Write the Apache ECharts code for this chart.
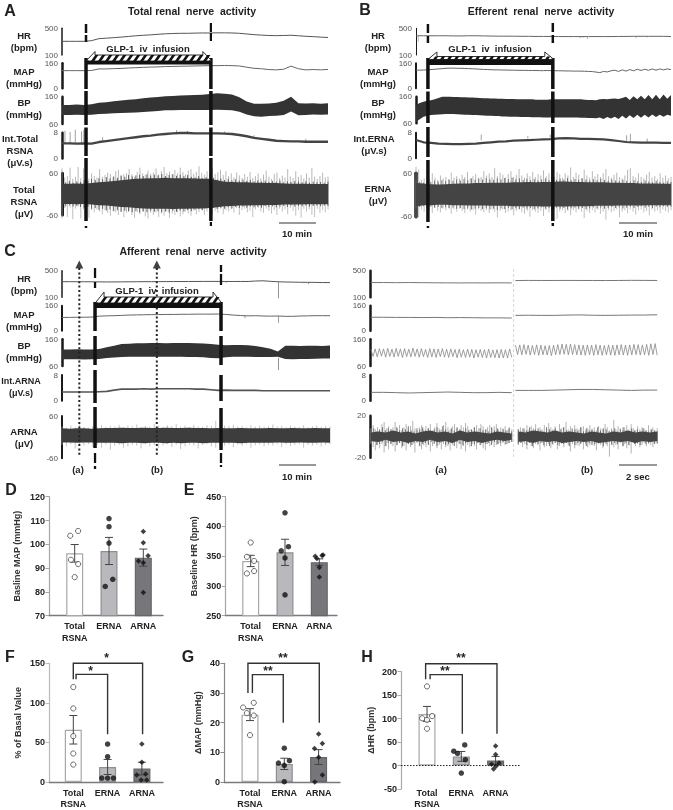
<!DOCTYPE html>
<html><head><meta charset="utf-8">
<script src="https://cdn.jsdelivr.net/npm/echarts@6/dist/echarts.min.js"></script>
<style>html,body{margin:0;padding:0;background:#fff}#c{width:673px;height:810px;filter:blur(.3px)}</style></head>
<body><div id="c"></div>
<script>
// ---------- DATA: recording traces ----------
const A_hr=[305,305,305,305,315,345,352,360,368,378,388,395,402,410,418,422,425,425,428,430,430,432,432,430,425,415,405,398,392,390,392,396,388,380,375,368,362];
const A_map=[113,113,113,113,114,124,124,126,127,130,132,134,136,137,139,140,141,142,143,144,145,145,146,145,143,135,128,125,120,118,122,142,125,118,120,118,121];
const A_bp_hi=[130,130,131,130,132,138,140,143,146,149,151,154,157,159,162,163,164,165,166,167,170,173,171,168,158,142,134,134,135,138,145,160,136,135,136,134,136];
const A_bp_lo=[93,93,94,93,94,97,98,99,100,101,102,104,106,108,110,110,111,111,111,111,111,112,111,110,105,95,88,87,89,90,93,106,92,93,95,94,95];
const A_int=[4.7,4.7,4.6,4.7,4.6,5.1,5.4,5.7,6.0,6.3,6.6,6.9,7.1,7.4,7.6,7.8,7.9,7.9,7.8,7.8,7.8,7.8,7.7,7.6,7.3,6.9,6.4,6.1,5.8,5.5,5.4,5.3,5.3,5.2,5.2,5.2,5.2];
const A_int_spikes=[[0.8,4.7,8.6],[2.2,4.7,8.2],[3.6,4.7,8.9],[5.3,4.7,8.4],[5.9,4.7,8.9],[11,5.4,6.6],[31,7.8,8.8],[34,7.9,8.6],[44,7.7,8.4],[52,6.4,7.2],[66,5.2,6.1]];
const A_nerve_hi=[30,30,31,30,32,34,36,38,40,42,44,45,46,46,47,46,46,46,45,44,44,40,36,35,34,34,33,33,32,32,31,30,30,30,29,29,29];
const A_nerve_lo=[-28,-28,-29,-28,-30,-32,-33,-35,-37,-38,-40,-41,-42,-42,-42,-43,-42,-42,-41,-41,-40,-38,-35,-34,-33,-33,-32,-32,-31,-31,-30,-30,-30,-29,-29,-29,-29];
const A_nerve_up=[74,48,52,76,44,50,78,46,74,42,45,60,52,48,72,50,55,62,58,49,66,70,54,57,61,72,58,50,64,76,60,56,68,59,62,74,57,66,78,60,65,58,70,61,76,63,57,68,72,59,64,80,61,56,66,60,74,58,63,70,55,66,52,60,48,62,54,46,58,50,64,47,52,60,45,56,68,50,44,58,62,46,53,48,72,51,46,66,50,55,45,60,48,76,50,44,52,62,48,50];
const A_nerve_down=[-70,-40,-66,-38,-72,-42,-36,-70,-44,-40,-68,-46,-52,-44,-50,-58,-46,-54,-62,-48,-52,-60,-50,-66,-54,-48,-60,-68,-52,-58,-50,-64,-70,-54,-60,-52,-66,-56,-62,-50,-68,-56,-60,-52,-64,-58,-50,-56,-62,-48,-58,-52,-46,-60,-50,-44,-56,-48,-54,-42,-58,-46,-50,-44,-54,-40,-60,-46,-42,-52,-48,-66,-44,-40,-50,-54,-42,-48,-56,-46,-60,-42,-50,-44,-58,-40,-48,-62,-46,-68,-42,-50,-44,-60,-66,-42,-54,-46,-52,-44];
const A_nerve_up2=[36,34,38,33,37,35,40,38,44,41,46,43,49,45,51,47,53,50,55,51,54,56,52,57,53,56,54,58,52,55,57,53,56,52,55,50,48,52,46,49,44,47,42,45,41,44,40,43,39,42,38,41,37,40,36,39,35,38,36,39,34,37,35,38,36,34,37,33,36,34,35,33,36];
const A_nerve_down2=[-33,-35,-32,-36,-34,-37,-39,-37,-42,-40,-45,-42,-47,-44,-49,-46,-51,-48,-50,-52,-49,-53,-50,-52,-48,-51,-49,-52,-50,-53,-48,-51,-47,-50,-46,-49,-45,-43,-46,-41,-44,-40,-43,-39,-42,-38,-41,-37,-40,-36,-39,-35,-38,-36,-39,-34,-37,-35,-38,-36,-34,-37,-33,-36,-34,-35,-33,-36,-34,-33,-35,-33,-34];

const B_hr=[388,388,388,388,388,386,386,388,388,386,384,382,382,382,380,380,378,378,378,376,376,376,376,376,376,376,376,378,378,380,380,380,380,380,376];
const B_hr_spikes=[[0.6,388,300],[44,376,350],[44.8,376,358],[46,376,340],[59,380,352],[62,380,362]];
const B_map=[117,116,117,118,120,122,124,126,128,129,129,128,128,127,126,125,124,122,121,120,119,118,118,117,117,116,116,115,115,115,114,114,114,113,113,114,113,113,112,112,111,111,110,110,110,109,108,107,104,100,108,105,112,116,108,118,110,120,112,122,114,122,115,124,116,124,118,124,120];
const B_bp_hi=[129,136,141,145,147,150,155,160,160,160,159,159,158,158,157,157,156,155,154,154,153,153,152,152,151,151,151,150,150,150,150,150,149,149,149,149,150,150,150,150,150,150,150,150,150,149,148,148,147,150,151,150,152,153,151,155,160,148,162,150,164,150,166,150,167,150,168,152,166];
const B_bp_lo=[66,75,85,88,91,92,93,94,95,95,95,94,93,92,92,91,91,90,89,88,88,87,87,86,86,85,85,85,84,84,84,83,83,83,82,82,82,82,82,82,82,82,82,82,81,81,80,80,79,82,76,84,78,85,76,88,78,90,80,92,81,92,82,93,84,92,85,92,88];
const B_int=[5.7,5.0,4.8,4.6,4.5,4.4,4.4,4.5,4.6,4.8,5.0,5.2,5.3,5.5,5.6,5.7,5.8,5.9,6.0,6.2,6.3,6.2,6.1,6.1,6.0,5.9,5.7,5.4,5.1,5.0,4.9,4.9,4.9,4.8,4.8];
const B_int_spikes=[[17.5,5.6,7.4],[30,6.2,7.0],[36,6.4,7.4],[56.5,4.9,7.2],[57.5,4.9,7.6],[62,4.8,6.2]];
const B_nerve_hi=[33,32,30,29,30,31,32,32,33,33,34,34,34,35,35,36,35,36,36,37,37,36,36,35,35,35,34,34,33,33,32,32,32,31,31];
const B_nerve_lo=[-32,-28,-28,-27,-27,-28,-28,-29,-29,-29,-30,-30,-30,-31,-31,-31,-31,-32,-32,-32,-32,-31,-31,-31,-30,-30,-30,-29,-29,-29,-29,-28,-28,-28,-28];
const B_nerve_up=[78,70,42,46,52,44,60,48,42,54,46,50,44,62,48,52,46,56,50,64,46,52,58,48,50,66,54,60,50,74,52,62,56,48,58,66,50,56,72,54,48,60,52,64,50,58,54,68,52,60,56,50,64,58,48,60,54,76,50,62,56,46,70,54,48,66,52,58,50,60,72,52,48,56,62,50,46,54,70,74,52,48,60,50,46,56,64,48,52,44,60,48,54,46,50];
const B_nerve_down=[-66,-62,-40,-46,-38,-42,-50,-36,-44,-48,-38,-42,-36,-52,-40,-46,-38,-44,-50,-40,-46,-42,-54,-40,-44,-48,-42,-50,-40,-46,-62,-44,-40,-50,-46,-42,-56,-44,-40,-48,-52,-44,-60,-42,-46,-50,-44,-58,-42,-48,-44,-40,-66,-46,-42,-50,-44,-56,-42,-48,-40,-46,-64,-44,-50,-42,-48,-40,-52,-46,-68,-42,-48,-44,-40,-62,-46,-42,-50,-40,-46,-54,-42,-40,-48,-44,-56,-40,-46,-42,-50,-40,-44,-48,-42];
const B_nerve_up2=[40,36,34,38,36,40,37,41,38,42,39,43,40,44,41,46,42,45,43,47,44,42,46,43,47,44,48,43,46,42,45,41,44,40,43,46,41,44,42,45,43,47,41,44,42,46,43,40,44,41,45,42,39,43,40,38,42,39,37,41,38,36,40,37,35,39,36,34,38,36];
const B_nerve_down2=[-36,-33,-31,-34,-32,-35,-33,-36,-34,-37,-35,-38,-36,-39,-37,-40,-38,-36,-39,-37,-40,-38,-41,-37,-39,-36,-40,-37,-39,-35,-38,-36,-39,-37,-34,-38,-36,-39,-35,-38,-36,-40,-37,-35,-38,-36,-39,-37,-34,-37,-35,-38,-36,-33,-36,-34,-37,-35,-32,-36,-33,-31,-35,-33,-36,-32,-34,-31,-33,-32];

const C_hr=[335,335,334,334,333,332,331,331,332,333,334,335,335,336,336,337,337,338,338,339,339,339,338,338,338,338,345,348,340,334,330,328,326,325,324,322,321];
const C_hr_spikes=[[58,330,85],[66,325,298],[44,338,318]];
const C_map=[85,85,86,86,87,93,95,96,98,100,101,102,103,103,104,104,105,105,106,106,106,107,104,100,97,95,96,94,93,94,92,92,94,95,96,96,96];
const C_map_spikes=[[58,94,50],[49,96,80]];
const C_bp_hi=[122,122,123,122,122,124,130,136,142,143,145,145,146,146,145,146,146,146,145,144,142,140,138,139,139,138,135,130,125,114,136,136,135,136,136,135,137];
const C_bp_lo=[85,85,85,84,85,86,90,92,94,95,95,95,95,95,95,95,95,94,94,93,90,89,93,95,95,95,94,94,94,95,86,85,86,86,87,88,88];
const C_bp_spikes=[[58,90,45],[25.5,145,152]];
const C_int=[2.7,2.7,2.7,2.7,2.7,2.8,2.9,3.3,3.6,3.6,3.6,3.7,3.6,3.7,3.7,3.7,3.7,3.7,3.6,3.6,3.4,3.2,3.3,3.2,3.2,3.2,3.2,3.1,3.1,3.1,3.1,3.1,3.1,3.1,3.1,3.1,3.1];
const C_nerve_hi=[25,24,25,25,24,25,26,26,27,26,26,27,26,26,27,26,26,27,26,26,25,26,25,25,26,25,25,25,26,25,25,26,25,25,26,25,25];
const C_nerve_lo=[-15,-15,-16,-15,-15,-16,-16,-16,-17,-16,-16,-17,-16,-16,-17,-16,-17,-16,-16,-17,-16,-16,-16,-16,-17,-16,-16,-16,-16,-15,-16,-16,-15,-16,-16,-15,-16];
const C_nerve_up=[30,27,33,28,36,29,27,31,28,34,29,32,30,35,28,33,31,36,29,32,30,38,33,29,34,31,37,30,33,29,35,31,30,34,32,46,29,33,31,35,30,32,28,34,30,33,29,31,36,30,32,28,33,30,29,34,28,31,33,29,32,30];
const C_nerve_down=[-22,-26,-20,-32,-22,-24,-20,-28,-22,-30,-21,-36,-24,-22,-30,-26,-22,-24,-32,-20,-26,-22,-30,-24,-20,-28,-22,-34,-26,-21,-24,-32,-22,-20,-26,-30,-22,-24,-20,-28,-22,-25,-20,-30,-23,-21,-26,-22,-24,-20,-28,-21,-25,-22,-20,-30,-22,-24,-21,-26,-22,-20];

const Ra_hr=[322,322,320,322,320,318,317,316,317,316,318,316];
const Rb_hr=[352,354,353,353,354,353,353,352,353,355,354,353];
const Ra_map=[86,86,85,85,84,85,83,84,83,82,82,81];
const Rb_map=[98,99,98,98,100,101,99,98,99,100,100,102];
const Ra_bp=[122,96,124,94,125,97,124,93,126,96,123,94,126,96,124,92,125,95,123,94,127,96,124,93,125,95,122,92,125,94,124,92,124,95,125,93,123,92,124,95,122,91,123,93,121,92,123,93,122,90,121,93,122,92,121,90,123,92,120,91,121,90,122,90,121,90,124,92];
const Rb_bp=[138,103,139,102,140,104,138,101,137,103,139,100,138,102,136,101,137,99,138,102,140,103,142,104,141,102,142,103,140,102,139,101,138,100,139,102,138,100,140,102,138,100,137,102,139,101,138,100,139,102,140,101,138,100,139,102,141,103,140,101,139,102,141,100,143,103,144,100];
const Ra_int=[2.6,2.6,2.5,2.4,2.5,2.6,2.7,2.6,2.5,2.5,2.6,2.5];
const Rb_int=[3.2,3.2,3.2,3.3,3.4,3.5,3.5,3.4,3.3,3.2,3.3,3.3];
const Ra_nerve_hi=[4,5,4,6,4,5,3,5,6,4,5,3,6,4,5,4,3,5,4,3];
const Ra_nerve_lo=[-4,-5,-3,-5,-4,-6,-4,-5,-3,-5,-4,-6,-3,-5,-4,-6,-4,-3,-4,-3];
const Rb_nerve_hi=[5,4,6,5,4,6,4,5,4,3,5,4,3,5,4,6,4,5,4,5];
const Rb_nerve_lo=[-5,-4,-6,-4,-5,-4,-6,-5,-4,-5,-4,-6,-5,-4,-5,-4,-6,-4,-5,-4];
const Ra_nerve_up=[8,11,7,9,6,12,14,8,10,7,9,14,8,11,6,9,12,7,10,15,8,6,9,11,7,10,8,12,6,9,13,8,7,11,14,9,7,10,12,8,6,11,9,13,10,7,6,9,11,8,12,10,7,9,11,8,10,12,7,9,8,10,6,9,7];
const Ra_nerve_down=[-7,-10,-13,-8,-11,-7,-15,-9,-12,-7,-9,-14,-8,-6,-11,-9,-13,-7,-10,-8,-15,-6,-9,-12,-8,-10,-7,-14,-9,-6,-11,-8,-12,-7,-10,-9,-13,-8,-6,-11,-7,-12,-9,-14,-8,-10,-7,-9,-12,-6,-8,-11,-13,-7,-9,-6,-10,-8,-7,-9,-6,-8,-7,-6,-5];
const Rb_nerve_up=[7,9,8,6,11,7,10,8,12,6,9,7,11,8,13,9,7,10,6,12,8,9,14,7,10,6,11,8,7,9,10,6,8,11,7,9,6,10,8,7,12,9,6,8,16,7,10,8,6,9,11,7,12,8,6,10,7,9,8,6,11,7,9,6,8];
const Rb_nerve_down=[-8,-6,-10,-7,-12,-6,-9,-11,-7,-8,-13,-6,-10,-9,-7,-11,-8,-6,-12,-9,-7,-10,-6,-8,-14,-7,-11,-8,-9,-6,-12,-7,-10,-8,-6,-9,-13,-7,-8,-11,-6,-9,-19,-7,-10,-8,-12,-6,-9,-7,-11,-8,-16,-6,-9,-7,-10,-8,-6,-9,-7,-8,-10,-6,-7];
const Ra_nerve_up2=[6,8,5,7,9,6,8,7,5,9,6,8,7,10,6,5,8,7,9,6,8,5,7,9,6,10,7,5,8,6,9,7,5,8,6,7,9,5,8,6,7,5,9,6,8,5,7,6,8,5];
const Ra_nerve_down2=[-6,-5,-8,-7,-5,-9,-6,-7,-5,-8,-6,-9,-5,-7,-8,-6,-5,-9,-7,-6,-8,-5,-7,-9,-6,-5,-8,-7,-6,-9,-5,-7,-8,-6,-5,-9,-7,-6,-8,-5,-7,-6,-8,-5,-7,-6,-5,-7,-6,-5];
const Rb_nerve_up2=[7,5,8,6,9,5,7,8,6,5,9,7,6,8,5,7,9,6,5,8,7,6,9,5,8,6,7,5,9,6,8,7,5,6,8,5,7,9,6,5,8,6,7,5,8,6,5,7,6,5];
const Rb_nerve_down2=[-7,-6,-5,-8,-6,-9,-5,-7,-6,-8,-5,-9,-7,-6,-8,-5,-7,-6,-9,-5,-8,-6,-7,-5,-9,-6,-8,-7,-5,-6,-9,-7,-5,-8,-6,-7,-5,-9,-6,-8,-5,-7,-6,-8,-5,-7,-6,-5,-7,-6];

// ---------- DATA: bar panels ----------
const barCategories=['Total\nRSNA','ERNA','ARNA'];
const D_means=[96.2,97.2,94.4], D_err=[3.7,5.7,3.6];
const D_total=[103.6,105.6,93.5,91.7,86.2], D_erna=[110.8,107.4,100.5,85.3,82.3], D_arna=[105.4,100.7,95.2,93,92.3,79.8];
const E_means=[342,356.5,340], E_err=[9.5,22,5.5];
const E_total=[373,349,342,321,325], E_erna=[423,359,366,347,285], E_arna=[350,351,346,331,315,352];
const F_means=[66,19,17], F_err=[18,9.5,8];
const F_total=[120,93,58,36,22], F_erna=[48,32,5,5,5], F_arna=[48,25,9,10,2.5,2.5];
const G_means=[22.7,6.1,8.4], G_err=[2,1.9,2.5];
const G_total=[25.1,26.7,23.2,22.4,15.8], G_erna=[11.4,6.4,7.2,5.6,0.1], G_arna=[16.2,13,11.3,8.3,2.4,0];
const H_means=[110,19.5,11], H_err=[16,10.5,8.5];
const H_total=[168.7,100.7,105.5,97.2,78.5], H_erna=[43.8,30.5,25.7,12.5,-16], H_arna=[41.7,23.6,5.6,2.8,-1.4,-7.6];

// ---------- LAYOUT ----------
const grid=[],xAxis=[],yAxis=[],series=[],graphic=[];
const FONT='"Liberation Sans",Arial,sans-serif';
function txt(x,y,text,size,opt){opt=opt||{};
  graphic.push({type:'text',x:x,y:y,silent:true,z:50,style:{text:text,fill:opt.fill||'#222',font:(opt.weight||'bold')+' '+size+'px '+FONT,textAlign:opt.align||'center',textVerticalAlign:'middle',lineHeight:opt.lh||12}});
}
function addGrid(l,t,w,h,xa,ya){
  grid.push({left:l,top:t,width:w,height:h,containLabel:false});
  xAxis.push(Object.assign({gridIndex:grid.length-1,type:'value',show:false,splitLine:{show:false}},xa));
  yAxis.push(Object.assign({gridIndex:grid.length-1,type:'value',splitLine:{show:false}},ya));
  return grid.length-1;
}
function line(g,vals,t0,t1,color,width){
  const n=vals.length;
  series.push({type:'line',xAxisIndex:g,yAxisIndex:g,showSymbol:false,silent:true,animation:false,clip:false,
    data:vals.map((v,i)=>[t0+i*(t1-t0)/(n-1),v]),lineStyle:{color:color,width:width}});
}
function band(g,hi,lo,t0,t1,color){
  const n=hi.length,d=hi.map((v,i)=>[t0+i*(t1-t0)/(n-1),v,lo[i]]);
  series.push({type:'custom',xAxisIndex:g,yAxisIndex:g,silent:true,animation:false,data:d,
    renderItem:function(p,api){
      if(p.dataIndex!==0) return null;
      const up=d.map(r=>api.coord([r[0],r[1]])),dn=d.map(r=>api.coord([r[0],r[2]])).reverse();
      return {type:'polygon',shape:{points:up.concat(dn)},style:{fill:color}};
    }});
}
function spikes(g,rows,color,width){
  series.push({type:'custom',xAxisIndex:g,yAxisIndex:g,silent:true,animation:false,data:rows,
    renderItem:function(p,api){
      const a=api.coord([api.value(0),api.value(1)]),b=api.coord([api.value(0),api.value(2)]);
      return {type:'line',shape:{x1:a[0],y1:a[1],x2:b[0],y2:b[1]},style:{stroke:color,lineWidth:width}};
    }});
}
function even(vals,t0,t1){const n=vals.length;return vals.map((v,i)=>[t0+i*(t1-t0)/(n-1),0,v]);}

const RANGES=[[100,500],[0,160],[60,160],[0,8],[-60,60]];
function rows(left,width,T,boxes,ranges,axisW){
  return boxes.map((b,i)=>addGrid(left,b[0],width,b[1]-b[0],{min:0,max:T},{
    min:ranges[i][0],max:ranges[i][1],
    axisLine:{show:true,onZero:false,lineStyle:{color:'#1a1a1a',width:axisW[i]}},
    axisTick:{show:false},
    axisLabel:{customValues:ranges[i],fontSize:8,color:'#555',margin:4,fontFamily:FONT}}));
}
function overlay(left,width,T){return addGrid(left,0,width,810,{min:0,max:T},{min:0,max:810,inverse:true,show:false});}
function vseg(g,t,segs,width,color,dash){
  const d=[];segs.forEach(s=>{d.push([t,s[0]],[t,s[1]],[t,null]);});
  series.push({type:'line',xAxisIndex:g,yAxisIndex:g,showSymbol:false,silent:true,animation:false,clip:false,connectNulls:false,z:20,
    data:d,lineStyle:{color:color||'#111',width:width,type:dash||'solid',cap:'butt'}});
}
function infusion(g,t0,t1,yHead,yHatch,yBlack,yEnd){
  series.push({type:'custom',xAxisIndex:g,yAxisIndex:g,silent:true,animation:false,z:21,data:[[t0,t1]],
    renderItem:function(p,api){
      const x0=api.coord([t0,0])[0],x1=api.coord([t1,0])[0],py=y=>api.coord([0,y])[1];
      const h0=py(yHead),h1=py(yHatch),b0=py(yBlack),b1=py(yEnd);
      const kids=[{type:'polygon',shape:{points:[[x0+1,b0-1],[x0+9,h0],[x0+9,h1],[x1-8,h1],[x1-8,h0],[x1,b0-1],[x1-2,b0],[x0+3,b0]]},style:{fill:'#fff',stroke:'#333',lineWidth:1}}];
      const hh=b0-h1;
      for(let x=x0+5;x<x1-6;x+=7){
        kids.push({type:'polygon',shape:{points:[[x,b0],[x+3.2,b0],[x+3.2+hh*.7,h1],[x+hh*.7,h1]]},style:{fill:'#111'}});
      }
      kids.push({type:'rect',shape:{x:x0,y:b0,width:x1-x0,height:b1-b0},style:{fill:'#111'}});
      return {type:'group',children:kids};
    }});
}

// ---- Panel A ----
const boxA=[[28.3,55],[63.3,88.3],[96.7,124],[132.7,158.5],[173.3,215]];
const gA=rows(62,266,72,boxA,RANGES,[1.5,2.5,2.5,2.5,3]);
line(gA[0],A_hr,0,72,'#555',1);
line(gA[1],A_map,0,72,'#666',1);
band(gA[2],A_bp_hi,A_bp_lo,0,72,'#333');
spikes(gA[3],A_int_spikes,'#888',.8);
line(gA[3],A_int,0,72,'#444',2.4);
spikes(gA[4],even(A_nerve_up,0,72),'#999',.7);
spikes(gA[4],even(A_nerve_down,0,72),'#a5a5a5',.7);
spikes(gA[4],even(A_nerve_up2,0,72),'#555',.9);
spikes(gA[4],even(A_nerve_down2,0,72),'#555',.9);
band(gA[4],A_nerve_hi,A_nerve_lo,0,72,'#3d3d3d');
const oA=overlay(62,266,72);
const A_infusion=[6.5,40.3];
vseg(oA,A_infusion[0],[[24,33],[35,42],[226,228]],2.5);
vseg(oA,A_infusion[0],[[58,89],[91,125],[127.5,156],[158,221]],3.5);
vseg(oA,A_infusion[1],[[23,32],[33,41],[222,226]],2.2);
vseg(oA,A_infusion[1],[[58,89],[91,125],[127.5,156],[158,221]],3.5);
infusion(oA,A_infusion[0],A_infusion[1],51.5,55,61,64.5);

// ---- Panel B ----
const boxB=[[28.3,55],[63.3,88.3],[96.7,123.3],[132.7,158.3],[173.3,216.7]];
const gB=rows(416,255,68.4,boxB,RANGES,[1,2,2.5,2,3.5]);
line(gB[0],B_hr,0,68.4,'#666',1);
spikes(gB[0],B_hr_spikes,'#999',.7);
line(gB[1],B_map,0,68.4,'#666',1);
band(gB[2],B_bp_hi,B_bp_lo,0,68.4,'#333');
spikes(gB[3],B_int_spikes,'#888',.8);
line(gB[3],B_int,0,68.4,'#444',2.2);
spikes(gB[4],even(B_nerve_up,0,68.4),'#999',.7);
spikes(gB[4],even(B_nerve_down,0,68.4),'#a5a5a5',.7);
spikes(gB[4],even(B_nerve_up2,0,68.4),'#666',.9);
spikes(gB[4],even(B_nerve_down2,0,68.4),'#666',.9);
band(gB[4],B_nerve_hi,B_nerve_lo,0,68.4,'#444');
const oB=overlay(416,255,68.4);
const B_infusion=[3.2,36.7];
vseg(oB,B_infusion[0],[[24,33],[36,43],[226,228]],2.5);
vseg(oB,B_infusion[0],[[58,89],[91.5,123],[127,157],[160,222]],3.5);
vseg(oB,B_infusion[1],[[23,32],[35,43],[223,226]],2.5);
vseg(oB,B_infusion[1],[[58,89],[91.5,123],[127,157],[160,221]],3.5);
infusion(oB,B_infusion[0],B_infusion[1],52,56.5,59.5,65);

// ---- Panel C ----
const boxC=[[270.7,297.3],[305.7,330.7],[339.3,366],[375,400.7],[416,458.3]];
const gC=rows(62,268,71.8,boxC,RANGES,[1.5,2,2.5,2,2]);
line(gC[0],C_hr,0,71.8,'#555',1);
spikes(gC[0],C_hr_spikes,'#777',.8);
line(gC[1],C_map,0,71.8,'#666',1);
spikes(gC[1],C_map_spikes,'#888',.8);
band(gC[2],C_bp_hi,C_bp_lo,0,71.8,'#333');
spikes(gC[2],C_bp_spikes,'#777',.8);
line(gC[3],C_int,0,71.8,'#555',1.6);
spikes(gC[4],even(C_nerve_up,0,71.8),'#aaa',.7);
spikes(gC[4],even(C_nerve_down,0,71.8),'#aaa',.7);
band(gC[4],C_nerve_hi,C_nerve_lo,0,71.8,'#3d3d3d');
const oC=overlay(62,268,71.8);
const C_infusion=[8.85,42.6], C_marks=[4.64,25.4];
C_marks.forEach(t=>{
  vseg(oC,t,[[268,457]],2,'#222',[2,2.4]);
  series.push({type:'scatter',xAxisIndex:oC,yAxisIndex:oC,symbol:'triangle',symbolSize:[8,8],silent:true,animation:false,z:22,data:[[t,264.5]],itemStyle:{color:'#111'}});
});
vseg(oC,C_infusion[0],[[268,278],[282,288],[453,463],[466,469]],2.3);
vseg(oC,C_infusion[0],[[302,331],[336,365],[370,403],[407,448]],3.5);
vseg(oC,C_infusion[1],[[265,272],[274,285],[453,463],[465,467]],2.3);
vseg(oC,C_infusion[1],[[302,331],[336,365],[375,401],[408,450]],3.5);
infusion(oC,C_infusion[0],C_infusion[1],292,297,303,308);

// ---- Right expanded panel ----
const R_ranges=[[100,500],[0,160],[60,160],[0,8],[-20,20]];
const gR=rows(370,290,15.55,boxC.map((b,i)=>i==4?[415.7,457.7]:b),R_ranges,[2.5,2.5,2.5,2.5,2.5]);
const Ra=[0.05,7.6],Rb=[7.8,15.4];
line(gR[0],Ra_hr,Ra[0],Ra[1],'#777',1); line(gR[0],Rb_hr,Rb[0],Rb[1],'#777',1);
line(gR[1],Ra_map,Ra[0],Ra[1],'#777',1); line(gR[1],Rb_map,Rb[0],Rb[1],'#777',1);
line(gR[2],Ra_bp,Ra[0],Ra[1],'#888',.8); line(gR[2],Rb_bp,Rb[0],Rb[1],'#888',.8);
line(gR[3],Ra_int,Ra[0],Ra[1],'#777',1); line(gR[3],Rb_int,Rb[0],Rb[1],'#777',1);
spikes(gR[4],even(Ra_nerve_up,Ra[0],Ra[1]),'#a0a0a0',.8); spikes(gR[4],even(Ra_nerve_down,Ra[0],Ra[1]),'#a0a0a0',.8);
spikes(gR[4],even(Rb_nerve_up,Rb[0]+.15,Rb[1]),'#a0a0a0',.8); spikes(gR[4],even(Rb_nerve_down,Rb[0]+.15,Rb[1]),'#a0a0a0',.8);
spikes(gR[4],even(Ra_nerve_up2,Ra[0],Ra[1]),'#666',.9); spikes(gR[4],even(Ra_nerve_down2,Ra[0],Ra[1]),'#666',.9);
spikes(gR[4],even(Rb_nerve_up2,Rb[0]+.15,Rb[1]),'#666',.9); spikes(gR[4],even(Rb_nerve_down2,Rb[0]+.15,Rb[1]),'#666',.9);
band(gR[4],Ra_nerve_hi,Ra_nerve_lo,Ra[0],Ra[1],'#444');
band(gR[4],Rb_nerve_hi,Rb_nerve_lo,Rb[0]+.15,Rb[1],'#444');
const oR=overlay(370,290,15.55);
vseg(oR,7.7,[[269,458]],.8,'#ccc',[3,2]);

// ---- Scale bars ----
function scale(x0,x1,y){graphic.push({type:'line',shape:{x1:x0,y1:y,x2:x1,y2:y},style:{stroke:'#333',lineWidth:1.2},silent:true,z:50});}
scale(279,316,223);scale(619,657,223);scale(279,316,465);scale(619,657,465);
txt(297,233,'10 min',9.5);txt(638,233,'10 min',9.5);txt(297,476,'10 min',9.5);txt(638,476,'2 sec',9.5);
txt(78,469,'(a)',9.5);txt(157,469,'(b)',9.5);txt(441,469,'(a)',9.5);txt(587,469,'(b)',9.5);

// ---- Text of trace panels ----
txt(192,11,'Total renal  nerve  activity',10.5);
txt(541,11,'Efferent  renal  nerve  activity',10.5);
txt(193,251,'Afferent  renal  nerve  activity',10.5);
txt(148,48,'GLP-1  iv  infusion',9.5);
txt(490,48,'GLP-1  iv  infusion',9.5);
txt(157,290,'GLP-1  iv  infusion',9.5);
[[24,41,'HR\n(bpm)'],[24,77,'MAP\n(mmHg)'],[24,108,'BP\n(mmHg)'],[20,150,'Int.Total\nRSNA\n(μV.s)'],[24,201,'Total\nRSNA\n(μV)'],
 [378,41,'HR\n(bpm)'],[378,77,'MAP\n(mmHg)'],[378,108,'BP\n(mmHg)'],[374,144,'Int.ERNA\n(μV.s)'],[378,194,'ERNA\n(μV)'],
 [24,284,'HR\n(bpm)'],[24,320,'MAP\n(mmHg)'],[24,351,'BP\n(mmHg)'],[21,387,'Int.ARNA\n(μV.s)'],[24,437,'ARNA\n(μV)']
].forEach(r=>txt(r[0],r[1],r[2],r[2].indexOf('Int.ARNA')==0?9:9.5));
[['A',10,10],['B',365,9],['C',10,250],['D',11,489],['E',189,489],['F',10,656],['G',188,656],['H',367,656]].forEach(r=>txt(r[1],r[2],r[0],16));

// ---- Bar panels ----
const BAR_FILL=['#ffffff','#b9b9bd','#77777b'], BAR_EDGE=['#a8a8a8','#8f8f93','#66666a'];
function barPanel(o){
  const u=34.3,xmin=1-(o.c1-o.L)/u,xmax=1+(o.R-o.c1)/u;
  const g=addGrid(o.L,o.top,o.R-o.L,o.bottom-o.top,{
    show:true,min:xmin,max:xmax,
    axisLine:{show:o.zeroDotted?false:true,onZero:false,lineStyle:{color:'#7a7a7a',width:1.4}},axisTick:{show:false},
    axisLabel:{customValues:[1,2,3],formatter:v=>barCategories[v-1],fontSize:9,fontWeight:'bold',color:'#222',fontFamily:FONT,margin:o.labelMargin,lineHeight:11.5,hideOverlap:false}
  },{
    min:o.min,max:o.max,interval:o.step,
    name:o.name,nameLocation:'middle',nameGap:o.nameGap,nameTextStyle:{fontSize:9,fontWeight:'bold',color:'#333',fontFamily:FONT},
    axisLine:{show:true,onZero:false,lineStyle:{color:o.axisColor||'#a5a5a5',width:1.2}},axisTick:{show:true,length:3.5,lineStyle:{color:o.axisColor||'#a5a5a5',width:1}},
    axisLabel:{fontSize:9,fontWeight:'bold',color:'#222',margin:4,fontFamily:FONT}
  });
  series.push({type:'bar',xAxisIndex:g,yAxisIndex:g,barWidth:17,silent:true,animation:false,
    data:o.means.map((m,i)=>({value:[i+1,m],itemStyle:{color:BAR_FILL[i],borderColor:BAR_EDGE[i],borderWidth:1.2}}))});
  if(o.zeroDotted){series.push({type:'line',xAxisIndex:g,yAxisIndex:g,showSymbol:false,silent:true,animation:false,z:3,data:[[xmin,0],[xmax,0]],lineStyle:{color:'#222',width:1,type:[1.5,1.5]}});}
  series.push({type:'custom',xAxisIndex:g,yAxisIndex:g,silent:true,animation:false,z:4,data:o.means.map((m,i)=>[i+1,m-o.err[i],m+o.err[i]]),
    renderItem:function(p,api){
      const a=api.coord([api.value(0),api.value(1)]),b=api.coord([api.value(0),api.value(2)]),s={stroke:'#444',lineWidth:1};
      return {type:'group',children:[
        {type:'line',shape:{x1:a[0],y1:a[1],x2:b[0],y2:b[1]},style:s},
        {type:'line',shape:{x1:a[0]-4,y1:a[1],x2:a[0]+4,y2:a[1]},style:s},
        {type:'line',shape:{x1:b[0]-4,y1:b[1],x2:b[0]+4,y2:b[1]},style:s}]};
    }});
  const sym=['circle','circle','diamond'];
  o.pts.forEach((vals,k)=>{
    series.push({type:'scatter',xAxisIndex:g,yAxisIndex:g,symbol:sym[k],symbolSize:k==2?5.5:(k==1?5.5:5.2),silent:true,animation:false,clip:false,z:5,
      data:vals.map((v,i)=>[k+1+o.jit[k][i],v]),
      itemStyle:k==0?{color:'#fff',borderColor:'#333',borderWidth:.9}:{color:'#111'}});
  });
  (o.brackets||[]).forEach(b=>{
    series.push({type:'line',xAxisIndex:g,yAxisIndex:g,showSymbol:false,silent:true,animation:false,clip:false,z:6,data:b,lineStyle:{color:'#333',width:1.4,join:'miter'}});
  });
}
barPanel({L:49,c1:74.7,R:163,top:496.7,bottom:615.7,min:70,max:120,step:10,name:'Basline MAP (mmHg)',nameGap:28,labelMargin:5,
  means:D_means,err:D_err,pts:[D_total,D_erna,D_arna],jit:[[-.13,.1,-.11,.1,0],[0,0,0,.11,-.11],[0,0,.14,-.14,0,0]]});
barPanel({L:225.3,c1:250.7,R:337,top:496.7,bottom:615.7,min:250,max:450,step:50,name:'Baseline HR (bpm)',nameGap:27,labelMargin:5,
  means:E_means,err:E_err,pts:[E_total,E_erna,E_arna],jit:[[0,-.11,.1,-.11,.1],[0,-.11,.1,0,0],[-.12,.08,-.07,0,0,.11]]});
barPanel({L:49,c1:73.3,R:163,top:663.3,bottom:783.3,min:0,max:150,step:50,name:'% of Basal Value',nameGap:27,labelMargin:5,axisColor:'#bbb',
  means:F_means,err:F_err,pts:[F_total,F_erna,F_arna],jit:[[0,0,0,0,0],[0,0,-.17,0,.17],[0,0,-.15,.11,-.02,.14]],
  brackets:[[[1,130],[1,150],[3.02,150],[3.02,60.4]],[[1.08,130],[1.08,136],[2,136],[2,60.4]]]});
barPanel({L:224,c1:250,R:340,top:663.3,bottom:783.3,min:0,max:40,step:10,name:'ΔMAP (mmHg)',nameGap:22,labelMargin:5,axisColor:'#888',
  means:G_means,err:G_err,pts:[G_total,G_erna,G_arna],jit:[[-.2,.11,-.09,.11,0],[0,-.17,.15,0,0],[0,.11,-.12,0,.11,-.11]],
  brackets:[[[.94,30],[.94,40],[3.02,40],[3.02,20]],[[1.07,30],[1.07,36.2],[1.97,36.2],[1.97,20]]]});
barPanel({L:401,c1:427,R:520,top:671.7,bottom:791.7,min:-50,max:200,step:50,name:'ΔHR (bpm)',nameGap:26,labelMargin:-2,zeroDotted:true,axisColor:'#aaa',
  means:H_means,err:H_err,pts:[H_total,H_erna,H_arna],jit:[[0,-.14,.15,0,0],[.1,-.22,-.11,.12,0],[0,0,.1,-.12,.01,-.06]],
  brackets:[[[.96,184],[.96,217],[3.04,217],[3.04,68]],[[1.09,184],[1.09,193.7],[2.03,193.7],[2.03,68]]]});
[[106.7,658,'*'],[90.7,671,'*'],[283,658,'**'],[268,671,'**'],[461,658,'**'],[445,671,'**']].forEach(r=>txt(r[0],r[1],r[2],12));

const chart=echarts.init(document.getElementById('c'),null,{renderer:'svg',width:673,height:810});
chart.setOption({backgroundColor:'#fff',animation:false,grid,xAxis,yAxis,series,graphic:{elements:graphic}});
</script></body></html>
